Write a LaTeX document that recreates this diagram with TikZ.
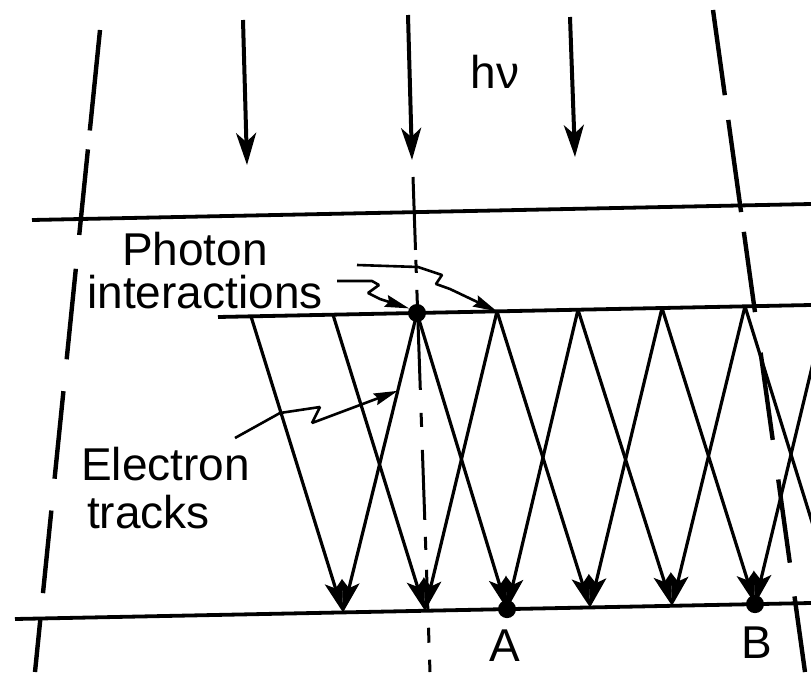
\documentclass[tikz,border=0pt]{standalone}
\usepackage{fontspec}
\setmainfont{Liberation Sans}
\usetikzlibrary{arrows.meta,calc}

\begin{document}
\begin{tikzpicture}[x=1pt,y=-1pt,
  every node/.style={inner sep=0pt,font=\fontsize{46}{48}\selectfont},
  photon/.style={line width=4pt,-{Stealth[length=32pt,width=20pt,inset=9pt]}},
  track/.style={line width=3.2pt,-{Stealth[length=32pt,width=18pt,inset=7pt]}},
  leader/.style={line width=2.6pt,line join=bevel,-{Stealth[length=24pt,width=12pt,inset=3pt]}},
  surface/.style={line width=3.8pt},
  rim/.style={line width=4.4pt},
  axisline/.style={line width=3pt},
  spot/.style={circle,fill,minimum size=18pt}]
\useasboundingbox (0,0) rectangle (811,672);
\clip (0,0) rectangle (811,672);
% surfaces
\draw[surface] (32,220) -- (811,204);
\draw[surface] (218,317) -- (811,305);
\draw[surface] (15,619) -- (811,603);
% beam edges
\coordinate (rimL1) at (100,30); \coordinate (rimL2) at (35,672);
\coordinate (rimR1) at (713,10); \coordinate (rimR2) at (805,672);
\draw[rim,dash pattern=on 101pt off 19pt on 86pt off 34pt on 91pt off 32pt on 88pt off 32pt on 83pt off 27pt on 60pt] (rimL1) -- (rimL2);
\draw[rim,dash pattern=on 86pt off 25pt on 93pt off 20pt on 81pt off 41pt on 88pt off 40pt on 84pt off 34pt on 80pt] (rimR1) -- (rimR2);
% incident photons
\foreach \i/\xa/\ya/\xb/\yb in {1/243/20/247/165,2/408/15/412/160,3/570/17/575/157}{
  \coordinate (hv\i a) at (\xa,\ya);
  \coordinate (hv\i b) at (\xb,\yb);
  \draw[photon] (hv\i a) -- (hv\i b);
}
\node[anchor=base] (hnu) at (495,88) {hν};
% central axis
\coordinate (axtop) at (413,177); \coordinate (axbot) at (430,672);
\draw[axisline,dash pattern=on 73pt off 10pt on 13pt off 17pt on 100pt off 23pt on 14pt off 23pt on 70pt off 17pt on 13pt off 20pt on 42pt off 16pt on 15pt off 17pt on 20pt] (axtop) -- (axbot);
% electron tracks
\foreach \n/\x in {1/251,2/333,3/417,4/497,5/578,6/662,7/745,8/827}
  \coordinate (t\n) at (\x,{317-0.0202*(\x-218)});
\foreach \n/\x in {1/343,2/425,3/507,4/590,5/672,6/755,7/837}
  \coordinate (b\n) at (\x,{619-0.0201*(\x-15)});
\foreach \n in {1,...,7}
  \draw[track] (t\n) -- (b\n);
\foreach \n [evaluate=\n as \m using int(\n+2)] in {1,...,6}
  \draw[track] (t\m) -- (b\n);
\node[spot] (iact) at (t3) {};
\node[spot] (ptA) at (b3) {};
\node[spot] (ptB) at (b6) {};
\node[anchor=base] (labA) at (505,661) {A};
\node[anchor=base] (labB) at (757,658) {B};
% labels
\node[anchor=base] (photonlbl) at (195,265) {Photon};
\node[anchor=base] (interlbl) at (205,308) {interactions};
\node[anchor=base west] (electronlbl) at (81,480) {Electron};
\node[anchor=base west] (trackslbl) at (87,528) {tracks};
\coordinate (ldA) at (337,281);
\coordinate (ldB) at (357,265);
\coordinate (ldC) at (235,438);
\draw[leader] (ldA) -- (372,281) -- (379,285) -- (368,293) -- (380,299) -- (iact.150);
\draw[leader] (ldB) -- (418,267) -- (442,275) -- (436,284) -- (450,289) -- (t4);
\draw[leader] (ldC) -- (280,413) -- (320,407) -- (312,423) -- (320,420) -- ($(t3)!0.26!(b1)$);
\end{tikzpicture}
\end{document}
